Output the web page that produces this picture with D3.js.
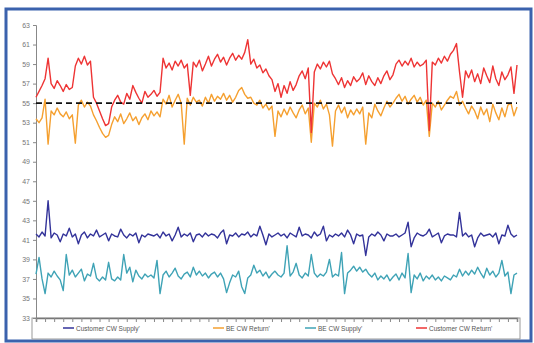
<!DOCTYPE html>
<html>
<head>
<meta charset="utf-8">
<script src="https://cdn.jsdelivr.net/npm/d3@7"></script>
<style>
  body { margin: 0; background: #fff; }
  svg { display: block; }
  text { font-family: "Liberation Sans", Arial, sans-serif; }
</style>
</head>
<body>
<svg id="chart" width="534" height="343"></svg>
<script>
// y ticks 33..63 step 2
var yTicks = [33, 35, 37, 39, 41, 43, 45, 47, 49, 51, 53, 55, 57, 59, 61, 63];
var refLine = 55;

var seriesNames = ["Customer CW Supply'", "BE CW Return'", "BE CW Supply'", "Customer CW Return'"];
var seriesColors = ["#33339a", "#f5a030", "#3fa3b6", "#ee3434"];

var custReturn = [
  55.6, 56.2, 56.8, 57.5, 59.6, 57.0, 56.5, 57.3, 56.8, 56.2,
  56.9, 56.4, 56.6, 58.8, 59.6, 59.0, 59.8, 58.9, 59.3, 55.6,
  55.0, 54.2, 53.4, 52.7, 52.9, 54.6, 55.3, 55.8, 55.1, 54.9,
  56.0, 55.4, 56.8, 56.1, 55.5, 55.0, 56.2, 55.6, 55.9, 56.3,
  55.7, 56.1, 59.6, 58.6, 59.1, 58.4, 59.3, 58.8, 59.4, 58.6,
  59.0, 55.8, 59.2, 58.7, 59.4, 58.3, 59.0, 59.8, 58.8, 59.5,
  60.0, 59.2, 59.7, 58.9, 59.6, 60.1, 59.4, 59.9, 59.5, 60.2,
  61.5, 59.0, 59.5, 58.6, 58.9, 58.1, 58.5, 57.8, 57.4, 56.2,
  57.0, 55.6, 56.8, 56.0, 57.2, 56.3, 56.9, 57.8, 58.3, 57.5,
  58.6, 52.0, 58.2, 59.0, 58.5, 59.2, 58.7, 59.3, 58.0, 57.5,
  56.9, 57.6, 56.6, 57.3, 56.8, 57.7, 57.2, 57.5, 58.1, 56.9,
  57.8, 57.2, 56.8, 57.6, 57.0, 57.8, 58.3, 57.4, 57.9, 59.0,
  59.4, 58.8, 59.3, 58.9, 59.6, 58.7, 59.2, 58.8, 59.0, 59.4,
  52.2, 59.2, 58.9, 59.6, 59.1, 59.8, 59.3, 60.0, 60.4, 61.1,
  58.2, 55.6, 58.3, 57.6, 58.4, 57.2, 58.0, 57.0, 58.6, 57.8,
  57.1, 58.8, 57.5, 56.8, 58.2, 57.4, 57.9, 58.7, 56.0, 58.9
];

var beReturn = [
  53.4, 53.0, 53.5, 55.4, 50.8, 54.2, 53.8, 54.5, 53.9, 53.6,
  54.1, 53.4, 53.8, 50.9, 54.8, 55.3, 54.6, 55.1, 54.7, 53.8,
  53.2, 52.5, 51.9, 51.5, 51.7, 52.8, 53.6, 53.1, 53.9, 52.9,
  53.4, 54.0, 53.2, 53.6, 52.8, 53.5, 53.9, 53.3, 54.2, 53.7,
  54.1, 53.6, 55.4, 54.9, 55.8, 54.6, 55.3, 55.9, 55.0, 50.8,
  55.5, 54.8, 55.6, 55.1, 55.3, 54.7, 55.6, 55.0, 55.9, 55.2,
  55.7, 55.4, 56.0, 55.3, 55.8, 55.1, 55.6, 56.3, 56.6, 55.9,
  55.5, 55.6, 55.0, 54.8, 55.3, 54.5, 54.9, 54.3, 54.7, 51.6,
  54.2, 53.6, 54.4, 53.8, 54.6, 54.0, 53.5, 54.3, 54.8, 53.9,
  54.5, 51.0, 55.0, 54.6, 55.3, 54.4, 54.9, 53.8, 50.6, 54.2,
  54.8, 54.0, 54.6, 53.5, 54.3, 53.8, 54.4, 53.9, 54.6, 50.8,
  54.0, 53.5, 54.9, 54.2, 53.7, 54.5, 55.2, 54.6, 55.0, 55.5,
  55.9, 55.2, 55.7, 54.9, 55.4, 55.8, 55.1, 55.6, 54.8, 55.3,
  51.6, 55.0, 54.6, 55.2, 54.3, 54.8, 55.3, 55.7, 55.5, 56.2,
  54.8, 55.2, 54.5, 53.9, 54.7, 54.2, 53.4, 54.6, 53.8, 54.4,
  53.1, 54.9, 54.0, 53.3, 54.5, 53.6, 54.8, 55.0, 53.7, 54.6
];

var custSupply = [
  41.6, 41.3, 41.8, 41.4, 45.0, 41.2, 41.7, 41.5, 40.8, 41.6,
  41.4, 42.2, 41.3, 41.6, 40.6, 41.5, 41.8, 41.2, 41.6, 41.4,
  42.0, 41.3, 41.5, 41.7, 40.9, 41.6, 41.4, 41.3, 42.1, 41.5,
  41.2, 41.6, 41.4, 41.7, 40.7, 41.5, 41.3, 41.6, 41.5, 41.4,
  41.6, 41.2, 41.8, 41.4, 41.6, 40.9, 41.5, 42.3, 41.3, 41.6,
  41.4, 41.7, 40.8, 41.5, 41.6, 41.3, 41.7, 41.4, 41.6, 41.5,
  41.2, 41.7, 42.0, 40.6, 41.5, 41.4, 41.7, 41.3, 41.6, 41.5,
  41.8, 41.3, 41.6, 41.4, 42.4, 41.5, 40.5, 41.6, 41.3, 41.5,
  41.7, 41.4, 41.6, 41.2, 41.7, 41.5, 41.3, 42.3, 41.4, 41.6,
  41.5, 41.2, 41.8, 41.4, 41.6, 42.4, 40.9, 41.5, 41.3, 41.6,
  41.4, 41.7, 41.3, 42.0, 41.5, 40.6, 41.6, 41.4, 41.5, 39.4,
  41.3, 41.6, 41.4, 41.8, 41.5, 40.9, 41.6, 41.4, 41.4, 41.6,
  41.3, 41.5, 41.7, 42.8, 40.3, 41.2, 41.7, 41.5, 41.4, 41.6,
  42.1, 41.3, 41.5, 41.7, 40.7, 41.4, 41.6, 41.5, 41.5, 41.3,
  43.8, 41.4, 41.7, 41.3, 41.5, 40.3, 41.2, 41.7, 41.4, 41.5,
  41.6, 41.3, 41.7, 40.6, 41.5, 41.4, 42.5, 41.6, 41.3, 41.5
];

var beSupply = [
  37.5, 39.2, 37.0, 35.5, 37.6, 37.2, 37.8, 37.3, 36.9, 35.8,
  39.5, 37.4, 37.9, 37.2, 37.6, 38.0, 36.8, 37.5, 37.3, 38.6,
  37.1, 36.8, 37.2, 36.9, 38.7, 37.0, 36.8, 37.2, 36.9, 39.5,
  37.6, 38.2, 36.7, 37.9, 37.3, 37.0, 37.5, 37.2, 37.4, 37.1,
  38.9, 35.5, 37.4, 37.8, 37.2, 37.6, 38.1, 37.3, 37.0, 37.5,
  37.7, 37.2, 38.2, 37.4, 37.8, 37.3, 37.6, 37.1, 37.5, 37.7,
  37.2, 37.6, 37.0, 35.6, 36.6, 37.4, 37.2, 37.8, 36.2, 35.5,
  37.1, 37.4, 38.4, 37.6, 37.9, 37.3, 37.7, 37.1, 37.5, 37.8,
  37.4, 37.2, 37.6, 40.4, 37.3, 37.7, 38.6, 37.4, 37.1, 37.6,
  37.3, 39.5, 37.6, 37.2, 37.5, 37.3, 37.7, 39.0, 37.2, 37.5,
  37.3, 39.7, 35.5, 37.6, 37.9, 38.3, 37.8, 38.2, 37.7, 38.0,
  37.5, 37.2, 37.6, 36.9, 37.3, 37.0, 37.4, 36.8, 37.2, 37.5,
  36.9, 37.6, 37.1, 39.6, 35.6, 37.4, 37.0, 37.6, 36.8, 37.3,
  37.0, 37.4, 36.9, 37.2, 36.8, 37.3, 37.1, 36.9, 37.4, 37.2,
  38.0, 37.3, 37.8, 37.4, 37.9, 37.5, 38.2, 37.6, 37.1, 38.1,
  37.4, 37.8, 37.2, 37.6, 38.9, 37.3, 37.7, 35.5, 37.4, 37.6
];

var seriesData = [custSupply, beReturn, beSupply, custReturn];

var svg = d3.select("#chart");

// blue frame
svg.append("rect")
  .attr("x", 6).attr("y", 9)
  .attr("width", 525).attr("height", 332)
  .attr("fill", "#fff")
  .attr("stroke", "#3b62ad")
  .attr("stroke-width", 3);

var margin = {left: 36, right: 17, top: 25, bottom: 25};
var width = 534 - margin.left - margin.right,
    height = 343 - margin.top - margin.bottom;

var x = d3.scaleLinear().domain([0, custReturn.length - 1]).range([0, width]);
var y = d3.scaleLinear().domain([33, 63]).range([height, 0]);

var g = svg.append("g").attr("transform", "translate(" + margin.left + "," + margin.top + ")");

// legend box (under the axis), cut by the frame
g.append("rect")
  .attr("x", -4).attr("y", height)
  .attr("width", width + 7).attr("height", 21)
  .attr("fill", "#fff")
  .attr("stroke", "#9a9a9a")
  .attr("stroke-width", 1);

var yAxis = g.append("g")
  .call(d3.axisLeft(y).tickValues(yTicks).tickSize(3).tickPadding(3));
yAxis.select(".domain").attr("stroke", "#888");
yAxis.selectAll(".tick line").attr("stroke", "#888");
yAxis.selectAll("text").attr("fill", "#777").style("font-size", "7px");

var xTickVals = d3.range(0, custReturn.length, 3);
var xAxis = g.append("g")
  .attr("transform", "translate(0," + height + ")")
  .call(d3.axisBottom(x).tickValues(xTickVals).tickSize(4).tickFormat(""));
xAxis.select(".domain").attr("stroke", "#777").attr("stroke-width", 1.5);
xAxis.selectAll(".tick line").attr("stroke", "#888");

var line = d3.line()
  .x(function(d, i) { return x(i); })
  .y(function(d) { return y(d); });

// draw order: supplies first, then returns with red on top
[2, 0, 1, 3].forEach(function(k) {
  g.append("path")
    .datum(seriesData[k])
    .attr("fill", "none")
    .attr("stroke", seriesColors[k])
    .attr("stroke-width", 1.4)
    .attr("stroke-linejoin", "round")
    .attr("d", line);
});

// dashed reference line
g.append("line")
  .attr("x1", 0).attr("x2", width)
  .attr("y1", y(refLine)).attr("y2", y(refLine))
  .attr("stroke", "#111")
  .attr("stroke-width", 1.8)
  .attr("stroke-dasharray", "6,4");

// legend
var legendX = [27, 177, 269, 380];
var legend = g.append("g").attr("transform", "translate(0," + (height + 10) + ")");
seriesNames.forEach(function(name, i) {
  var item = legend.append("g").attr("transform", "translate(" + legendX[i] + ",0)");
  item.append("line")
    .attr("x1", 0).attr("x2", 11)
    .attr("stroke", seriesColors[i])
    .attr("stroke-width", 1.5);
  item.append("text")
    .attr("x", 13).attr("y", 2.5)
    .attr("fill", "#555")
    .style("font-size", "6.5px")
    .text(name);
});
</script>
</body>
</html>
